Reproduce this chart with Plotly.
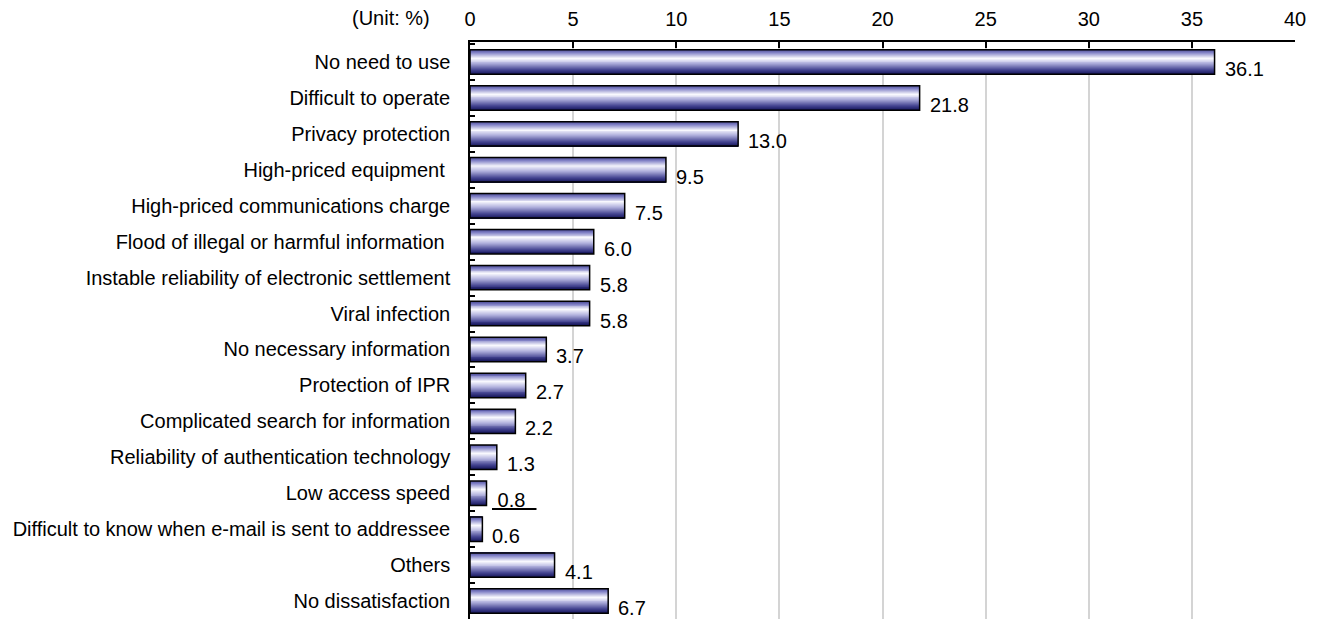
import plotly.graph_objects as go

# Reasons for dissatisfaction with Internet use (unit: %)
categories = [
    "No need to use",
    "Difficult to operate",
    "Privacy protection",
    "High-priced equipment ",
    "High-priced communications charge",
    "Flood of illegal or harmful information ",
    "Instable reliability of electronic settlement",
    "Viral infection",
    "No necessary information",
    "Protection of IPR",
    "Complicated search for information",
    "Reliability of authentication technology",
    "Low access speed",
    "Difficult to know when e-mail is sent to addressee",
    "Others",
    "No dissatisfaction",
]
values = [36.1, 21.8, 13.0, 9.5, 7.5, 6.0, 5.8, 5.8, 3.7, 2.7, 2.2, 1.3, 0.8, 0.6, 4.1, 6.7]
x_ticks = [0, 5, 10, 15, 20, 25, 30, 35, 40]

FONT = "Liberation Sans, Arial, sans-serif"
BAR_WIDTH = 0.68
N_STRIPS = 26

# Vertical colour profile across a bar (0 = top edge, 1 = bottom edge)
STOPS = [
    (0.00, (62, 62, 140)),
    (0.14, (130, 130, 198)),
    (0.36, (250, 250, 255)),
    (0.58, (178, 178, 222)),
    (0.84, (68, 68, 145)),
    (1.00, (22, 22, 92)),
]


def shade(s):
    for (s0, c0), (s1, c1) in zip(STOPS, STOPS[1:]):
        if s0 <= s <= s1:
            f = (s - s0) / (s1 - s0)
            return "rgb({},{},{})".format(*[round(c0[i] + (c1[i] - c0[i]) * f) for i in range(3)])
    return "rgb({},{},{})".format(*STOPS[-1][1])


fig = go.Figure()

# Thin horizontal strips stacked across each bar build the shaded fill
strip = BAR_WIDTH / N_STRIPS
for k in range(N_STRIPS):
    s = (k + 0.5) / N_STRIPS
    fig.add_trace(go.Bar(
        x=values, y=categories, orientation="h",
        offset=-BAR_WIDTH / 2 + k * strip, width=strip * 1.08,
        marker=dict(color=shade(s), line=dict(width=0)),
        hoverinfo="skip", showlegend=False,
    ))

# Outline on top
fig.add_trace(go.Bar(
    x=values, y=categories, orientation="h",
    width=BAR_WIDTH,
    marker=dict(color="rgba(0,0,0,0)", line=dict(color="black", width=1.5)),
    showlegend=False,
))

# Value labels to the right of each bar
for cat, v in zip(categories, values):
    txt = f"{v:.1f}"
    shift = 8
    if cat == "Low access speed":
        txt = "<u>\u00a0" + txt + "\u00a0\u00a0</u>"
        shift = 3
    fig.add_annotation(
        x=v, y=cat, xref="x", yref="y", text=txt, showarrow=False,
        xanchor="left", yanchor="middle", xshift=shift, yshift=-7,
        font=dict(family=FONT, size=20, color="black"),
    )

fig.add_annotation(
    x=0, y=1, xref="paper", yref="paper", text="(Unit: %)", showarrow=False,
    xanchor="right", yanchor="middle", xshift=-38, yshift=24,
    font=dict(family=FONT, size=20, color="black"),
)

fig.update_layout(
    width=1317, height=619,
    margin=dict(l=470, r=22, t=42, b=0),
    barmode="overlay",
    paper_bgcolor="white", plot_bgcolor="white",
    font=dict(family=FONT, size=20, color="black"),
    xaxis=dict(
        side="top", range=[0, 40], tickvals=x_ticks,
        ticks="inside", ticklen=6, tickwidth=1.5, tickcolor="black",
        showline=True, linecolor="black", linewidth=1.5,
        showgrid=True, gridcolor="#d4d4d4", gridwidth=1.5,
        zeroline=False, ticklabelstandoff=6,
    ),
    yaxis=dict(
        autorange="reversed",
        ticks="inside", tickson="boundaries", ticklen=5, tickwidth=1.5,
        tickcolor="black", showline=True, linecolor="black", linewidth=1.5,
        showgrid=False, zeroline=False, ticklabelstandoff=14,
    ),
)

fig.write_html("out.html")
